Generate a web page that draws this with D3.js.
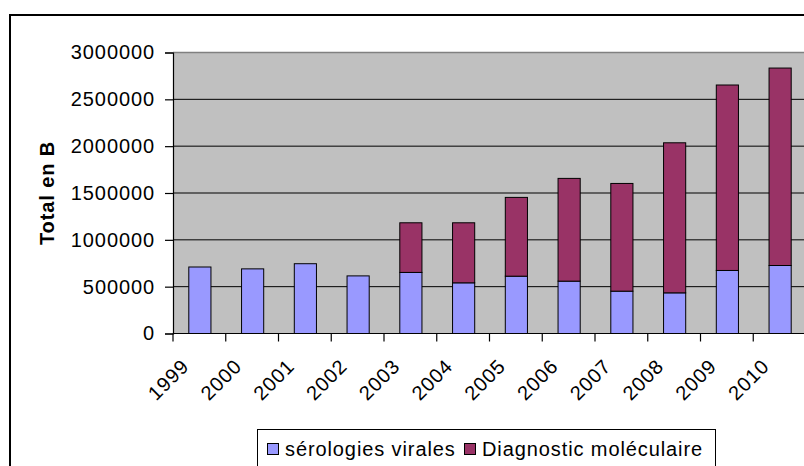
<!DOCTYPE html>
<html>
<head>
<meta charset="utf-8">
<script src="https://cdn.jsdelivr.net/npm/d3@7"></script>
<style>
  body { margin: 0; background: #fff; }
  svg { display: block; font-family: "Liberation Sans", Arial, sans-serif; }
  text { letter-spacing: 0.9px; }
</style>
</head>
<body>
<div id="chart"></div>
<script>
// data
const years = ['1999', '2000', '2001', '2002', '2003', '2004', '2005', '2006', '2007', '2008', '2009', '2010'];
const serologies = [710000, 690000, 745000, 615000, 652000, 541000, 612000, 559000, 452000, 434000, 673000, 726000];
const moleculaire = [0, 0, 0, 0, 530000, 641000, 841000, 1097000, 1150000, 1602000, 1980000, 2108000];
const yTicks = [0, 500000, 1000000, 1500000, 2000000, 2500000, 3000000];
const seriesNames = ['sérologies virales', 'Diagnostic moléculaire'];
const seriesColors = ['#9999FF', '#993366'];

const W = 804, H = 466;
const plot = { left: 173, top: 52.5, right: 806, bottom: 333.5 };

const svg = d3.select('#chart').append('svg')
  .attr('width', W)
  .attr('height', H);

// outer chart frame (runs off the right and bottom edges)
svg.append('rect')
  .attr('x', 10).attr('y', 15)
  .attr('width', 900).attr('height', 600)
  .attr('fill', '#fff')
  .attr('stroke', '#000')
  .attr('stroke-width', 2);

const x = d3.scaleBand()
  .domain(years)
  .range([plot.left, plot.right])
  .padding(0);

const y = d3.scaleLinear()
  .domain([0, 3000000])
  .range([plot.bottom, plot.top]);

// plot area
svg.append('rect')
  .attr('x', plot.left).attr('y', plot.top)
  .attr('width', plot.right - plot.left)
  .attr('height', plot.bottom - plot.top)
  .attr('fill', '#C0C0C0');

svg.append('line')
  .attr('x1', plot.left).attr('x2', plot.right)
  .attr('y1', plot.top).attr('y2', plot.top)
  .attr('stroke', '#808080')
  .attr('stroke-width', 1.5);

// gridlines
svg.append('g')
  .selectAll('line')
  .data(yTicks.filter(d => d > 0 && d < 3000000))
  .join('line')
  .attr('x1', plot.left).attr('x2', plot.right)
  .attr('y1', d => y(d)).attr('y2', d => y(d))
  .attr('stroke', '#000')
  .attr('stroke-width', 1);

// stacked bars
const stacked = d3.stack().keys([0, 1])(years.map((yr, i) => ({ yr, 0: serologies[i], 1: moleculaire[i] })));
const barW = x.bandwidth() * 0.42;

svg.append('g')
  .selectAll('g')
  .data(stacked)
  .join('g')
  .attr('fill', (d, i) => seriesColors[i])
  .selectAll('rect')
  .data(d => d.filter(p => p[1] > p[0]))
  .join('rect')
  .attr('x', d => x(d.data.yr) + (x.bandwidth() - barW) / 2 + 0.5)
  .attr('width', barW)
  .attr('y', d => y(d[1]))
  .attr('height', d => y(d[0]) - y(d[1]))
  .attr('stroke', '#000')
  .attr('stroke-width', 1);

// y axis
const yAxis = svg.append('g')
  .attr('transform', `translate(${plot.left},0)`)
  .call(d3.axisLeft(y).tickValues(yTicks).tickFormat(d3.format('d')).tickSize(8).tickPadding(10));
yAxis.select('.domain').attr('stroke', '#000').attr('stroke-width', 1.2);
yAxis.selectAll('.tick line').attr('stroke', '#000').attr('stroke-width', 1.2);
yAxis.selectAll('text')
  .attr('font-size', 20)
  .attr('font-family', '"Liberation Sans", Arial, sans-serif')
  .attr('fill', '#000');

// x axis: ticks at category boundaries
svg.append('line')
  .attr('x1', plot.left).attr('x2', plot.right)
  .attr('y1', plot.bottom).attr('y2', plot.bottom)
  .attr('stroke', '#000').attr('stroke-width', 1.2);

svg.append('g')
  .selectAll('line')
  .data(years)
  .join('line')
  .attr('x1', d => x(d)).attr('x2', d => x(d))
  .attr('y1', plot.bottom).attr('y2', plot.bottom + 8)
  .attr('stroke', '#000').attr('stroke-width', 1.2);

svg.append('g')
  .selectAll('text')
  .data(years)
  .join('text')
  .attr('transform', d => `translate(${x(d) + x.bandwidth() / 2 - 9},${plot.bottom + 34}) rotate(-45)`)
  .attr('text-anchor', 'end')
  .attr('font-size', 20)
  .text(d => d);

// y axis title
svg.append('text')
  .attr('transform', `translate(54,${(plot.top + plot.bottom) / 2}) rotate(-90)`)
  .attr('text-anchor', 'middle')
  .attr('font-size', 20)
  .attr('font-weight', 'bold')
  .text('Total en B');

// legend
const legend = svg.append('g');
legend.append('rect')
  .attr('x', 257.5).attr('y', 429.5)
  .attr('width', 458).attr('height', 60)
  .attr('fill', '#fff')
  .attr('stroke', '#000')
  .attr('stroke-width', 1);

const legendX = [267, 464];
seriesNames.forEach((name, i) => {
  legend.append('rect')
    .attr('x', legendX[i] + 0.5).attr('y', 443.5)
    .attr('width', 11).attr('height', 11)
    .attr('fill', seriesColors[i])
    .attr('stroke', '#000')
    .attr('stroke-width', 1);
  legend.append('text')
    .attr('x', legendX[i] + 18)
    .attr('y', 456)
    .attr('font-size', 20)
    .text(name);
});
</script>
</body>
</html>
